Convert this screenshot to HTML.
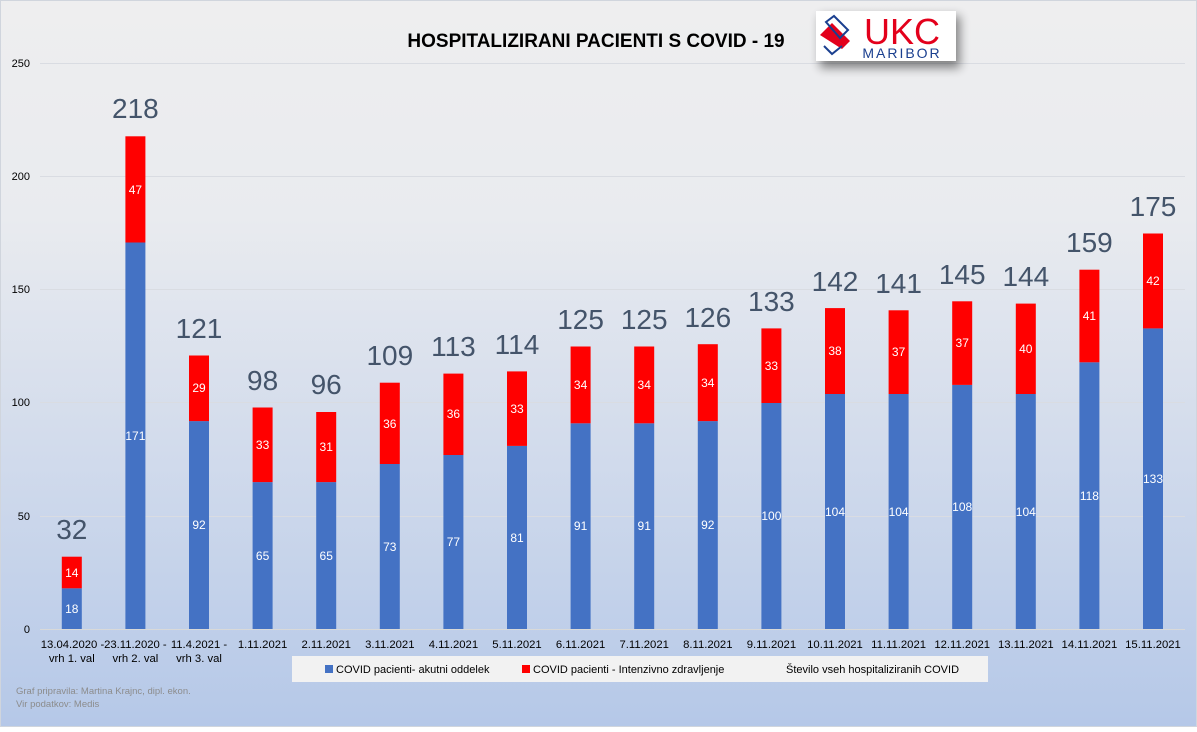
<!DOCTYPE html>
<html><head><meta charset="utf-8"><style>
html,body{margin:0;padding:0}
body{width:1197px;height:727px;overflow:hidden;font-family:"Liberation Sans",sans-serif}
</style></head><body>
<svg width="1197" height="727" viewBox="0 0 1197 727" xmlns="http://www.w3.org/2000/svg" font-family="Liberation Sans, sans-serif">
<defs>
<linearGradient id="bg" x1="0" y1="0" x2="0" y2="1">
<stop offset="0" stop-color="#eeeeef"/><stop offset="0.3" stop-color="#e9ebef"/><stop offset="0.6" stop-color="#d3dcec"/><stop offset="1" stop-color="#b5c8e8"/>
</linearGradient>
<filter id="sh" x="-20%" y="-20%" width="150%" height="180%"><feGaussianBlur stdDeviation="5"/></filter>
</defs>
<rect width="1197" height="727" fill="url(#bg)"/>
<rect x="0.5" y="0.5" width="1196" height="726" fill="none" stroke="#d0d5dd"/>
<g stroke="#d9dce2" stroke-width="1">
<line x1="40" y1="63.5" x2="1185" y2="63.5"/><line x1="40" y1="176.5" x2="1185" y2="176.5"/><line x1="40" y1="289.5" x2="1185" y2="289.5"/><line x1="40" y1="402.5" x2="1185" y2="402.5"/><line x1="40" y1="516.5" x2="1185" y2="516.5"/>
</g>
<line x1="40" y1="629.5" x2="1185" y2="629.5" stroke="#d9d9d9"/>
<g font-size="11" fill="#000" text-anchor="end">
<text x="30" y="67">250</text><text x="30" y="180">200</text><text x="30" y="293">150</text><text x="30" y="406">100</text><text x="30" y="520">50</text><text x="30" y="633">0</text>
</g>
<text x="596" y="47" font-size="19" font-weight="bold" text-anchor="middle" fill="#000">HOSPITALIZIRANI PACIENTI S COVID - 19</text>
<rect x="820" y="16" width="140" height="52" fill="#000" opacity="0.45" filter="url(#sh)"/>
<rect x="816" y="11" width="140" height="50" fill="#fff"/>
<path d="M820 35 l12 -12 l18 18 l-8 8 z" fill="#e3001b"/>
<path d="M826 22 l8 -6 l14 14 l-8 8 z M824 46 l8 8 l10 -8" fill="none" stroke="#1a3f8f" stroke-width="2"/>
<text x="902" y="44" font-size="36" fill="#e3001b" text-anchor="middle">UKC</text>
<text x="902" y="58" font-size="14" fill="#1a3f8f" text-anchor="middle" letter-spacing="2">MARIBOR</text>
<g fill="#4472c4">
<rect x="61.8" y="588.3" width="20" height="40.7"/><rect x="125.4" y="242.5" width="20" height="386.5"/><rect x="189" y="421.1" width="20" height="207.9"/><rect x="252.6" y="482.1" width="20" height="146.9"/><rect x="316.2" y="482.1" width="20" height="146.9"/><rect x="379.8" y="464" width="20" height="165"/><rect x="443.4" y="455" width="20" height="174"/><rect x="507" y="445.9" width="20" height="183.1"/><rect x="570.6" y="423.3" width="20" height="205.7"/><rect x="634.2" y="423.3" width="20" height="205.7"/><rect x="697.8" y="421.1" width="20" height="207.9"/><rect x="761.4" y="403" width="20" height="226"/><rect x="825" y="394" width="20" height="235"/><rect x="888.6" y="394" width="20" height="235"/><rect x="952.2" y="384.9" width="20" height="244.1"/><rect x="1015.8" y="394" width="20" height="235"/><rect x="1079.4" y="362.3" width="20" height="266.7"/><rect x="1143" y="328.4" width="20" height="300.6"/>
</g>
<g fill="#ff0000">
<rect x="61.8" y="556.7" width="20" height="31.6"/><rect x="125.4" y="136.3" width="20" height="106.2"/><rect x="189" y="355.5" width="20" height="65.6"/><rect x="252.6" y="407.5" width="20" height="74.6"/><rect x="316.2" y="412" width="20" height="70.1"/><rect x="379.8" y="382.7" width="20" height="81.3"/><rect x="443.4" y="373.6" width="20" height="81.4"/><rect x="507" y="371.4" width="20" height="74.5"/><rect x="570.6" y="346.5" width="20" height="76.8"/><rect x="634.2" y="346.5" width="20" height="76.8"/><rect x="697.8" y="344.2" width="20" height="76.9"/><rect x="761.4" y="328.4" width="20" height="74.6"/><rect x="825" y="308.1" width="20" height="85.9"/><rect x="888.6" y="310.3" width="20" height="83.7"/><rect x="952.2" y="301.3" width="20" height="83.6"/><rect x="1015.8" y="303.6" width="20" height="90.4"/><rect x="1079.4" y="269.7" width="20" height="92.6"/><rect x="1143" y="233.5" width="20" height="94.9"/>
</g>
<g font-size="12" fill="#fff" text-anchor="middle">
<text x="71.8" y="613">18</text><text x="135.4" y="440">171</text><text x="199" y="529">92</text><text x="262.6" y="560">65</text><text x="326.2" y="560">65</text><text x="389.8" y="551">73</text><text x="453.4" y="546">77</text><text x="517" y="542">81</text><text x="580.6" y="530">91</text><text x="644.2" y="530">91</text><text x="707.8" y="529">92</text><text x="771.4" y="520">100</text><text x="835" y="516">104</text><text x="898.6" y="516">104</text><text x="962.2" y="511">108</text><text x="1025.8" y="516">104</text><text x="1089.4" y="500">118</text><text x="1153" y="483">133</text>
<text x="71.8" y="577">14</text><text x="135.4" y="194">47</text><text x="199" y="392">29</text><text x="262.6" y="449">33</text><text x="326.2" y="451">31</text><text x="389.8" y="428">36</text><text x="453.4" y="418">36</text><text x="517" y="413">33</text><text x="580.6" y="389">34</text><text x="644.2" y="389">34</text><text x="707.8" y="387">34</text><text x="771.4" y="370">33</text><text x="835" y="355">38</text><text x="898.6" y="356">37</text><text x="962.2" y="347">37</text><text x="1025.8" y="353">40</text><text x="1089.4" y="320">41</text><text x="1153" y="285">42</text>
</g>
<g font-size="28" fill="#44546a" text-anchor="middle">
<text x="71.8" y="539">32</text><text x="135.4" y="118">218</text><text x="199" y="338">121</text><text x="262.6" y="390">98</text><text x="326.2" y="394">96</text><text x="389.8" y="365">109</text><text x="453.4" y="356">113</text><text x="517" y="354">114</text><text x="580.6" y="329">125</text><text x="644.2" y="329">125</text><text x="707.8" y="327">126</text><text x="771.4" y="311">133</text><text x="835" y="291">142</text><text x="898.6" y="293">141</text><text x="962.2" y="284">145</text><text x="1025.8" y="286">144</text><text x="1089.4" y="252">159</text><text x="1153" y="216">175</text>
</g>
<g font-size="11.3" fill="#000" text-anchor="middle">
<text x="72.5" y="648">13.04.2020 -</text><text x="71.8" y="662">vrh 1. val</text>
<text x="135.4" y="648">23.11.2020 -</text><text x="135.4" y="662">vrh 2. val</text>
<text x="199" y="648">11.4.2021 -</text><text x="199" y="662">vrh 3. val</text>
<text x="262.6" y="648">1.11.2021</text><text x="326.2" y="648">2.11.2021</text><text x="389.8" y="648">3.11.2021</text><text x="453.4" y="648">4.11.2021</text><text x="517" y="648">5.11.2021</text><text x="580.6" y="648">6.11.2021</text><text x="644.2" y="648">7.11.2021</text><text x="707.8" y="648">8.11.2021</text><text x="771.4" y="648">9.11.2021</text><text x="835" y="648">10.11.2021</text><text x="898.6" y="648">11.11.2021</text><text x="962.2" y="648">12.11.2021</text><text x="1025.8" y="648">13.11.2021</text><text x="1089.4" y="648">14.11.2021</text><text x="1153" y="648">15.11.2021</text>
</g>
<rect x="292" y="656" width="696" height="26" fill="#f2f2f2"/>
<rect x="325" y="665" width="8" height="8" fill="#4472c4"/>
<text x="336" y="673" font-size="11" fill="#000">COVID pacienti- akutni oddelek</text>
<rect x="522" y="665" width="8" height="8" fill="#ff0000"/>
<text x="533" y="673" font-size="11" fill="#000">COVID pacienti - Intenzivno zdravljenje</text>
<text x="786" y="673" font-size="11" fill="#000">Število vseh hospitaliziranih COVID</text>
<text x="16" y="694" font-size="9.5" fill="#8c8c8c">Graf pripravila: Martina Krajnc, dipl. ekon.</text>
<text x="16" y="707" font-size="9.5" fill="#8c8c8c">Vir podatkov: Medis</text>
</svg>
</body></html>
